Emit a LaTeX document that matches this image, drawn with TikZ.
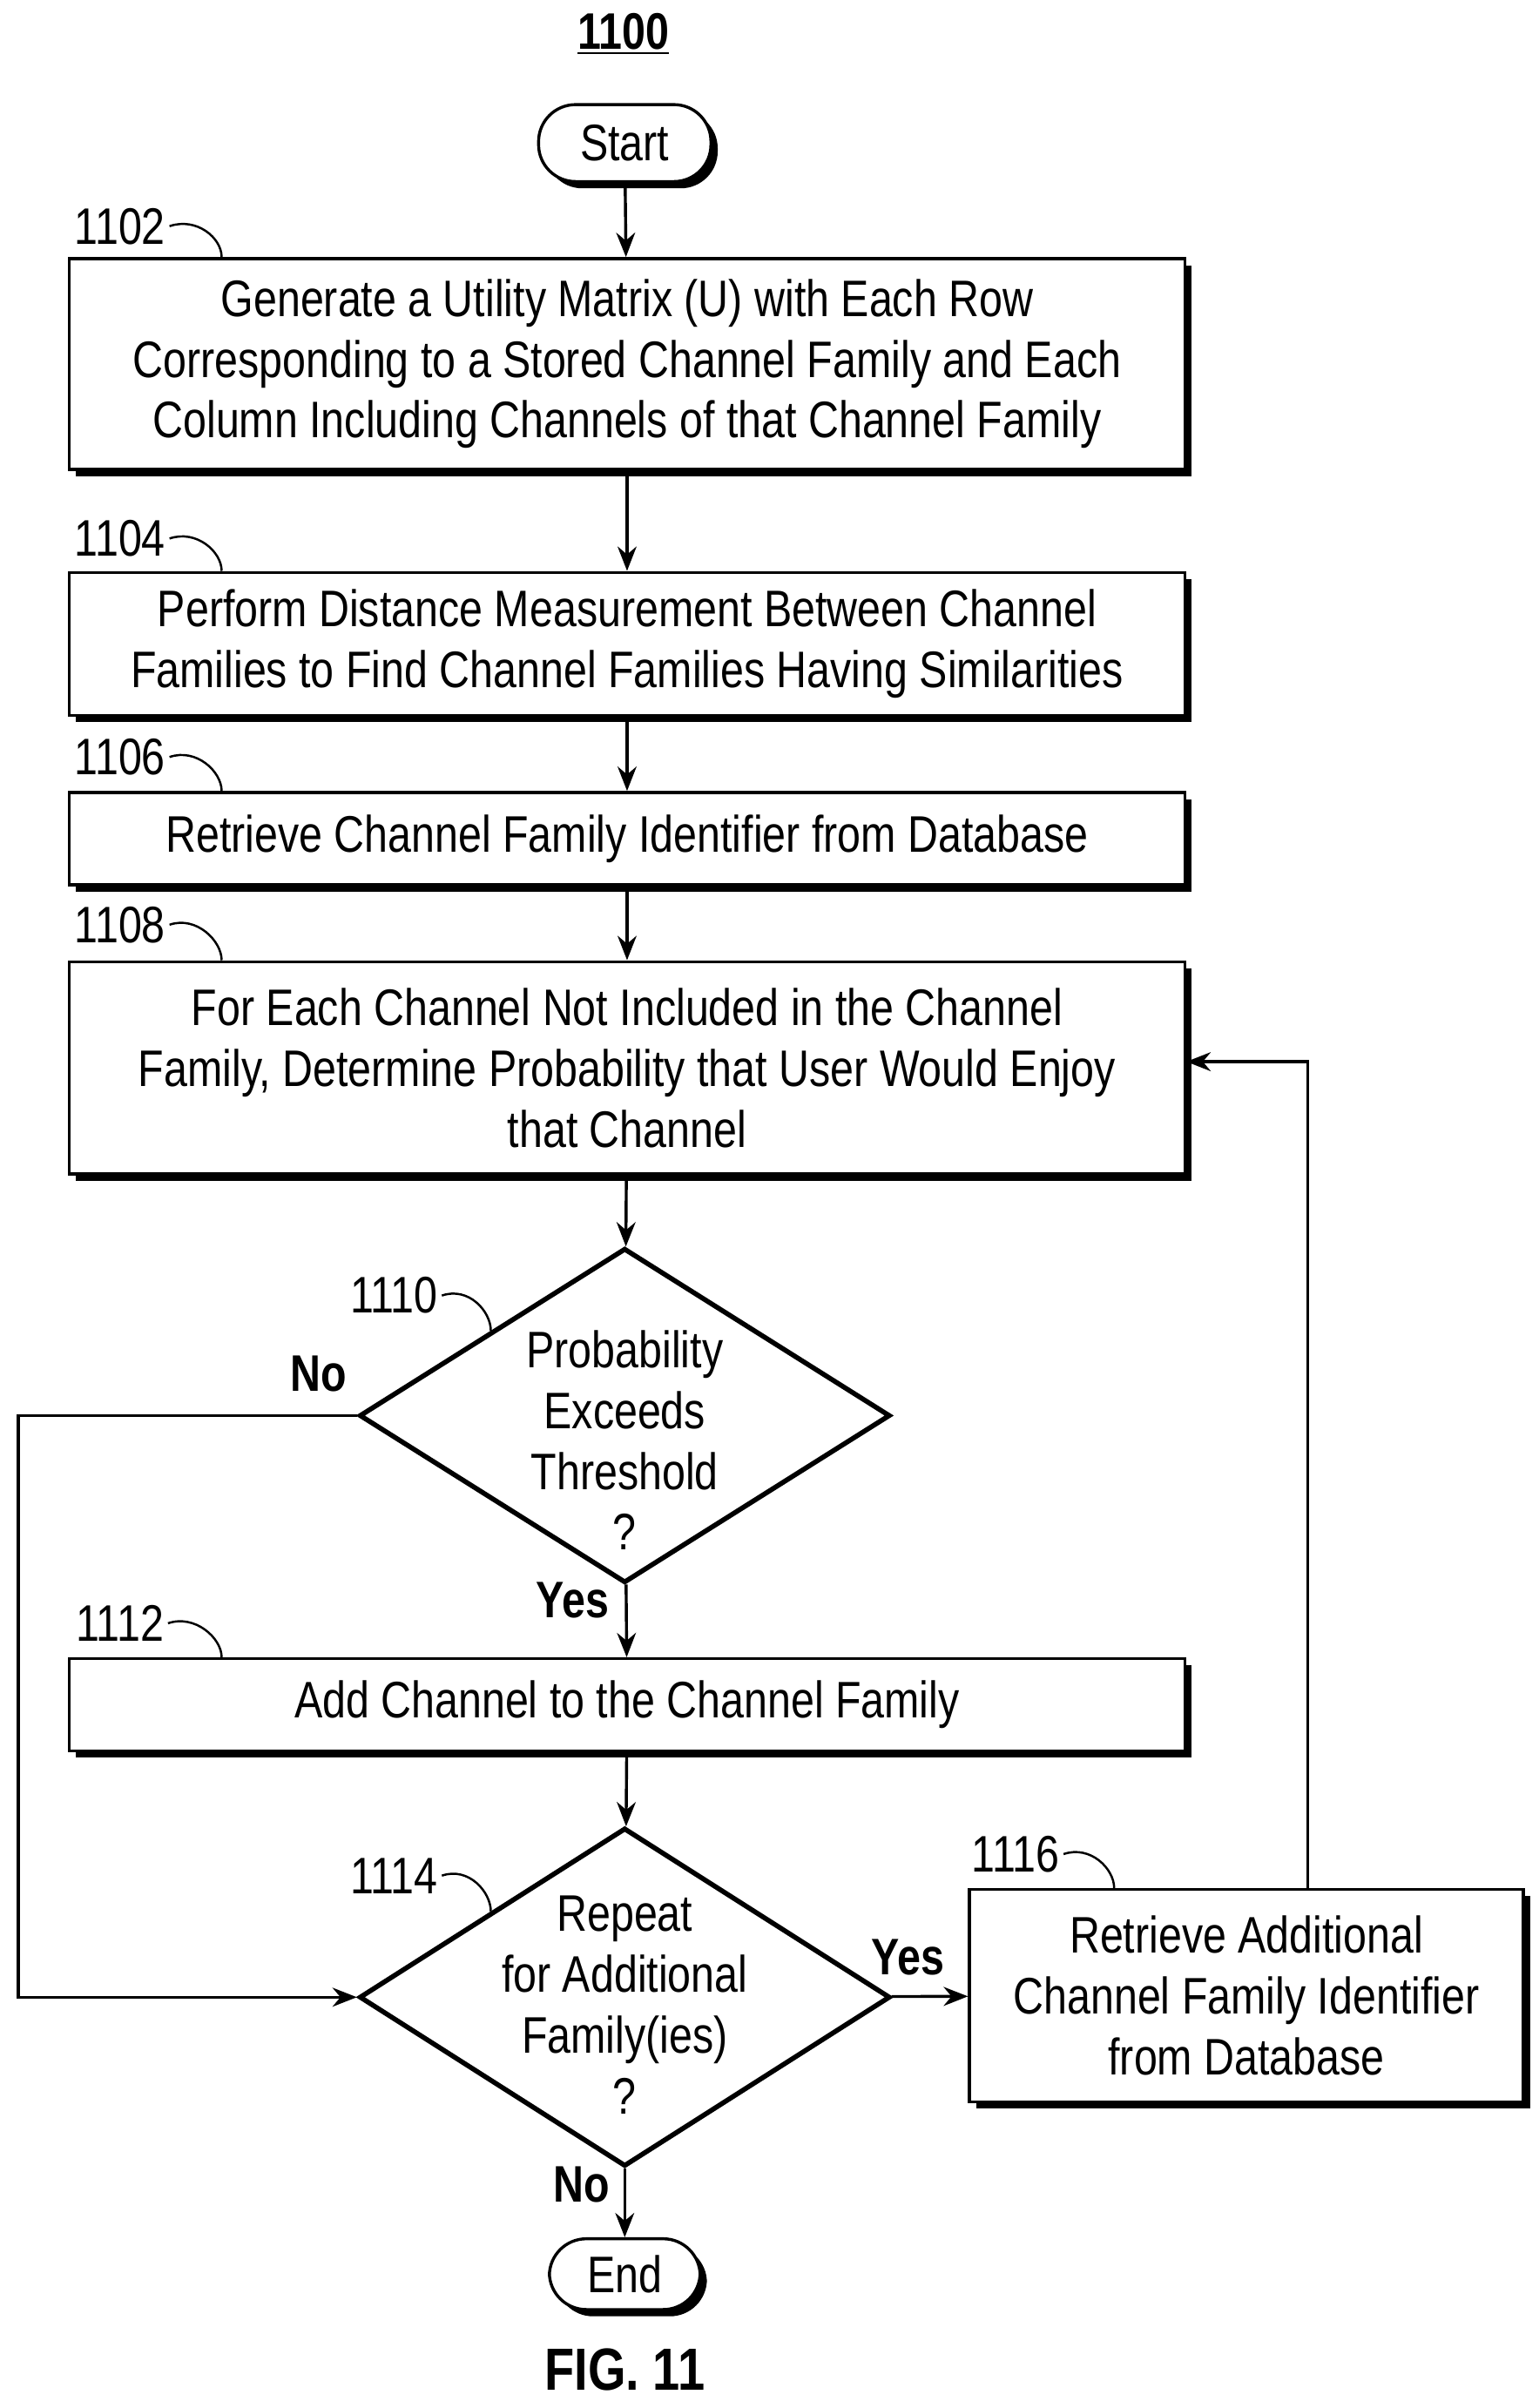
\documentclass[tikz,border=0pt]{standalone}
\usepackage{fontspec}
\setmainfont{Liberation Sans}[FakeStretch=0.82]
\usetikzlibrary{calc, positioning, arrows.meta, shapes.geometric, shadows}
\begin{document}
\begin{tikzpicture}[
		>={Stealth[length=9pt,width=7pt]},
		font=\fontsize{19}{22.5}\selectfont,
		every path/.style={line width=1.1pt},
		stepbox/.style={draw, fill=white, rectangle, minimum width=14.5cm, align=center, inner sep=2pt,
			drop shadow={shadow xshift=2.5pt, shadow yshift=-2.5pt, fill=black, opacity=1}},
		endbox/.style={draw, fill=white, rounded corners=0.48cm, align=center,
			drop shadow={shadow xshift=2.5pt, shadow yshift=-2.5pt, fill=black, opacity=1}},
		decision/.style={draw, diamond, line width=1.8pt, minimum width=6.9cm, minimum height=4.35cm, inner sep=0pt},
		reftag/.style={inner sep=1pt},
		answer/.style={font=\fontsize{19}{22}\selectfont\bfseries},
		tick/.style={line width=0.8pt}
	]
	\useasboundingbox (0,0) rectangle (20,-31.3);

	\node[font=\fontsize{19}{22}\selectfont\bfseries] (title) at (8.1,-0.44) {\underline{1100}};
	\node[endbox, minimum width=2.24cm, minimum height=1.0cm] (start) at (8.12,-1.86) {Start};

	\node[stepbox, minimum height=2.74cm] (b1102) at (8.15,-4.73) {Generate a Utility Matrix (U) with Each Row\\Corresponding to a Stored Channel Family and Each\\Column Including Channels of that Channel Family};
	\node[stepbox, minimum height=1.86cm] (b1104) at (8.15,-8.37) {Perform Distance Measurement Between Channel\\Families to Find Channel Families Having Similarities};
	\node[stepbox, minimum height=1.2cm] (b1106) at (8.15,-10.9) {Retrieve Channel Family Identifier from Database};
	\node[stepbox, minimum height=2.76cm] (b1108) at (8.15,-13.88) {For Each Channel Not Included in the Channel\\Family, Determine Probability that User Would Enjoy\\that Channel};
	\node[decision] (d1110) at (8.12,-18.4) {};
	\node[align=center] (t1110) at (8.12,-18.72) {Probability\\Exceeds\\Threshold\\?};
	\node[stepbox, minimum height=1.2cm] (b1112) at (8.15,-22.16) {Add Channel to the Channel Family};
	\node[decision, minimum height=4.4cm] (d1114) at (8.12,-25.96) {};
	\node[align=center] (t1114) at (8.12,-26.06) {Repeat\\for Additional\\Family(ies)\\?};
	\node[stepbox, minimum width=7.2cm, minimum height=2.76cm] (b1116) at (16.2,-25.94) {Retrieve Additional\\Channel Family Identifier\\from Database};
	\node[endbox, minimum width=1.96cm, minimum height=0.92cm] (end) at (8.12,-29.56) {End};
	\node[font=\fontsize{22}{26}\selectfont\bfseries] (fig) at (8.12,-30.8) {FIG. 11};

	% reference numerals
	\node[reftag] (r1102) at (1.56,-2.94) {1102};
	\node[reftag] (r1104) at (1.56,-7.0) {1104};
	\node[reftag] (r1106) at (1.56,-9.84) {1106};
	\node[reftag] (r1108) at (1.56,-12.02) {1108};
	\node[reftag] (r1110) at (5.12,-16.84) {1110};
	\node[reftag] (r1112) at (1.56,-21.1) {1112};
	\node[reftag] (r1114) at (5.12,-24.38) {1114};
	\node[reftag] (r1116) at (13.2,-24.1) {1116};
	\foreach \r/\b in {1102/b1102, 1104/b1104, 1106/b1106, 1108/b1108, 1112/b1112}
		\draw[tick] (r\r.east) .. controls +(0.35,0.12) and +(0,0.25) .. ($(\b.north west)+(2.0,0)$);
	\draw[tick] (r1110.east) .. controls +(0.35,0.12) and +(0,0.25) .. ($(d1110.north)!0.5!(d1110.west)$);
	\draw[tick] (r1114.east) .. controls +(0.35,0.12) and +(0,0.25) .. ($(d1114.north)!0.5!(d1114.west)$);
	\draw[tick] (r1116.east) .. controls +(0.35,0.12) and +(0,0.25) .. ($(b1116.north west)+(1.9,0)$);

	% flow
	\draw[->] (start) -- (b1102);
	\draw[->] (b1102) -- (b1104);
	\draw[->] (b1104) -- (b1106);
	\draw[->] (b1106) -- (b1108);
	\draw[->] (b1108) -- (d1110);
	\draw[->] (d1110) -- (b1112);
	\draw[->] (b1112) -- (d1114);
	\draw[->] (d1114) -- (end);
	\draw[->] (d1114) -- (b1116);
	\coordinate (nw) at (0.24,-18.4);
	\coordinate (sw) at (0.24,-25.96);
	\draw[->] (d1110.west) -- (nw) -- (sw) -- (d1114.west);
	\coordinate (ne) at (17.0,-13.8);
	\draw[->] (b1116.north -| ne) -- (ne) -- (b1108.east |- ne);

	\node[answer] (no1) at (4.14,-17.86) {No};
	\node[answer] (yes1) at (7.44,-20.8) {Yes};
	\node[answer] (yes2) at (11.8,-25.44) {Yes};
	\node[answer] (no2) at (7.56,-28.4) {No};
\end{tikzpicture}
\end{document}
